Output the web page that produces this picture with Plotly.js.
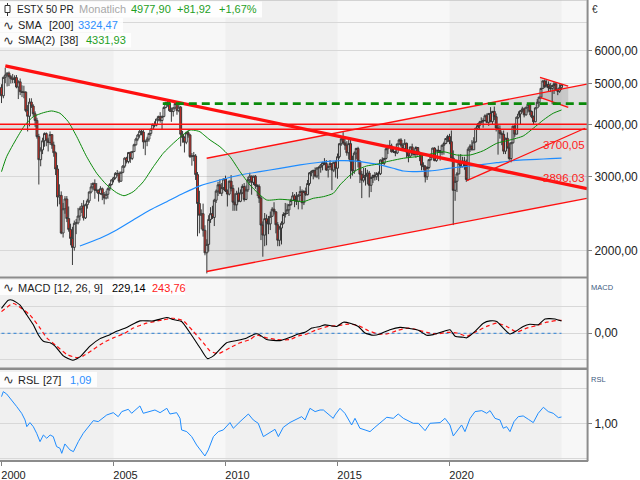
<!DOCTYPE html>
<html><head><meta charset="utf-8">
<script src="https://cdn.plot.ly/plotly-3.0.1.min.js"></script>
<style>html,body{margin:0;padding:0;background:#fff;}#chart{width:640px;height:480px;}</style>
</head><body><div id="chart"></div>
<script>
// ---- Monthly OHLC, Jan 2000 .. Jan 2025 ----
const opens = [
4904,4684,5182,5249,5303,5200,5145,5122,5175,4915,5057,4790,
4772,4779,4318,4185,4525,4426,4243,4091,3743,3297,3479,3658,
3806,3670,3625,3784,3574,3425,3133,2686,2710,2204,2518,2657,
2386,2248,2140,2037,2325,2330,2419,2519,2556,2395,2575,2630,
2761,2839,2894,2787,2788,2737,2811,2720,2671,2726,2811,2877,
2951,2984,3058,3056,2930,3076,3182,3326,3263,3429,3320,3447,
3579,3692,3775,3854,3839,3637,3649,3692,3809,3899,4004,3987,
4120,4178,4088,4182,4392,4512,4489,4315,4295,4382,4490,4316,
4400,3792,3725,3628,3826,3778,3353,3367,3365,3038,2592,2430,
2451,2237,1977,2071,2375,2451,2401,2639,2775,2872,2743,2828,
2966,2776,2729,2931,2817,2610,2573,2742,2623,2748,2845,2650,
2793,2954,3013,2911,3011,2862,2849,2671,2302,2179,2385,2330,
2317,2416,2512,2477,2306,2118,2265,2325,2440,2455,2503,2575,
2636,2703,2634,2624,2712,2770,2603,2768,2721,2893,3068,3087,
3109,3013,3150,3162,3199,3245,3228,3116,3173,3226,3114,3251,
3146,3352,3599,3697,3616,3571,3424,3601,3270,3101,3418,3507,
3268,3045,2946,3005,3028,3063,2865,2991,3023,3002,3055,3052,
3291,3231,3320,3501,3560,3555,3442,3449,3421,3595,3674,3570,
3504,3609,3439,3362,3537,3407,3396,3525,3393,3399,3198,3173,
3001,3159,3298,3352,3514,3280,3474,3467,3427,3569,3604,3703,
3745,3641,3329,2787,2928,3050,3234,3174,3273,3194,2958,3493,
3553,3481,3636,3919,3975,4039,4064,4089,4196,4048,4251,4063,
4298,4175,3924,3903,3803,3789,3455,3708,3517,3318,3618,3965,
3794,4163,4238,4315,4359,4218,4399,4471,4297,4175,4061,4382,
4521,4648,4878,5083,4921,4984,4894,4873,4958,4999,4827,4804,
4896];
const highs = [
4990,5205,5464,5330,5350,5250,5280,5240,5250,5100,5150,4960,
4950,4800,4450,4620,4620,4470,4300,4150,3800,3530,3720,3830,
3830,3720,3850,3790,3640,3450,3200,2880,2770,2600,2700,2700,
2550,2320,2280,2360,2380,2530,2550,2600,2640,2590,2660,2770,
2900,2910,2960,2900,2800,2850,2830,2760,2780,2830,2900,2960,
3000,3080,3115,3090,3090,3200,3340,3350,3440,3450,3460,3600,
3720,3800,3880,3900,3890,3660,3740,3820,3910,4020,4070,4130,
4200,4280,4200,4420,4530,4560,4572,4390,4400,4500,4500,4470,
4430,3860,3750,3850,3880,3800,3420,3440,3400,3080,2780,2510,
2590,2300,2130,2430,2540,2560,2660,2800,2920,2960,2900,2970,
3020,2800,2940,3030,2870,2740,2780,2830,2800,2880,2900,2860,
3000,3070,3020,3020,3030,2880,2880,2700,2350,2460,2440,2420,
2480,2540,2610,2480,2340,2290,2350,2470,2600,2590,2580,2660,
2760,2730,2760,2730,2850,2800,2790,2830,2950,3080,3110,3120,
3160,3160,3180,3220,3260,3325,3290,3190,3290,3230,3260,3280,
3410,3610,3740,3836,3700,3650,3690,3690,3370,3450,3520,3540,
3290,3100,3150,3150,3120,3100,3000,3040,3080,3080,3090,3300,
3340,3330,3510,3580,3670,3600,3530,3470,3600,3700,3710,3610,
3690,3620,3480,3540,3600,3510,3550,3530,3450,3420,3250,3200,
3180,3300,3410,3520,3530,3480,3560,3470,3580,3640,3710,3780,
3800,3870,3470,3000,3080,3390,3400,3350,3350,3300,3530,3590,
3670,3730,3930,4030,4080,4160,4140,4230,4250,4260,4400,4310,
4415,4250,3990,3980,3850,3870,3720,3830,3620,3630,3970,4020,
4180,4300,4330,4410,4390,4400,4480,4480,4320,4200,4400,4600,
4660,4890,5090,5120,5100,5070,5020,4930,5050,5050,4880,4990,
4990];
const lows = [
4500,4620,5020,4930,4940,5010,5020,5020,4880,4600,4700,4650,
4620,4280,3850,3960,4380,4180,3950,3700,2877,3180,3400,3540,
3550,3450,3580,3500,3350,3030,2550,2580,2190,2150,2450,2340,
2220,2060,1849,2000,2190,2310,2360,2460,2360,2380,2520,2600,
2740,2800,2660,2750,2620,2720,2640,2580,2650,2660,2780,2860,
2910,2960,3010,2900,2920,3060,3150,3230,3230,3240,3290,3440,
3560,3650,3720,3770,3500,3380,3550,3640,3760,3880,3940,3960,
4070,4040,3900,4160,4370,4410,4290,4060,4180,4360,4220,4280,
3550,3620,3430,3590,3720,3330,3190,3270,2950,2165,2200,2250,
2160,1950,1765,1990,2330,2380,2290,2600,2700,2730,2700,2790,
2760,2550,2710,2770,2490,2490,2490,2610,2610,2730,2620,2640,
2760,2900,2720,2870,2810,2700,2600,2120,1935,2050,2060,2190,
2240,2410,2440,2200,2050,2050,2070,2310,2400,2450,2420,2560,
2630,2540,2570,2510,2700,2510,2570,2700,2710,2860,3010,2960,
2990,2980,2960,3070,3110,3200,3100,2990,3160,2790,3080,2990,
2970,3320,3560,3580,3480,3370,3300,2970,3020,3050,3310,3160,
2900,2670,2910,2860,2880,2680,2760,2900,2940,2950,2930,3030,
3220,3200,3300,3400,3540,3430,3420,3360,3400,3580,3530,3500,
3490,3330,3250,3330,3370,3360,3330,3370,3270,3110,3110,2910,
2950,3130,3280,3340,3270,3260,3420,3280,3380,3390,3590,3630,
3590,3320,2302,2630,2760,3040,3150,3160,3120,2920,2940,3440,
3470,3480,3620,3900,3880,4020,3930,4080,4030,3970,4050,4000,
4100,3850,3390,3700,3570,3400,3400,3510,3280,3250,3600,3740,
3790,4130,4000,4270,4160,4200,4270,4210,4140,3990,4050,4380,
4410,4600,4860,4890,4910,4800,4780,4470,4730,4820,4700,4760,
4840];
const closes = [
4684,5182,5249,5303,5200,5145,5122,5175,4915,5057,4790,4772,
4779,4318,4185,4525,4426,4243,4091,3743,3297,3479,3658,3806,
3670,3625,3784,3574,3425,3133,2686,2710,2204,2518,2657,2386,
2248,2140,2037,2325,2330,2419,2519,2556,2395,2575,2630,2761,
2839,2894,2787,2788,2737,2811,2720,2671,2726,2811,2877,2951,
2984,3058,3056,2930,3076,3182,3326,3263,3429,3320,3447,3579,
3692,3775,3854,3839,3637,3649,3692,3809,3899,4004,3987,4120,
4178,4088,4182,4392,4512,4489,4315,4295,4382,4490,4316,4400,
3792,3725,3628,3826,3778,3353,3367,3365,3038,2592,2430,2451,
2237,1977,2071,2375,2451,2401,2639,2775,2872,2743,2828,2966,
2776,2729,2931,2817,2610,2573,2742,2623,2748,2845,2650,2793,
2954,3013,2911,3011,2862,2849,2671,2302,2179,2385,2330,2317,
2416,2512,2477,2306,2118,2265,2325,2440,2455,2503,2575,2636,
2703,2634,2624,2712,2770,2603,2768,2721,2893,3068,3087,3109,
3013,3150,3162,3199,3245,3228,3116,3173,3226,3114,3251,3146,
3352,3599,3697,3616,3571,3424,3601,3270,3101,3418,3507,3268,
3045,2946,3005,3028,3063,2865,2991,3023,3002,3055,3052,3291,
3231,3320,3501,3560,3555,3442,3449,3421,3595,3674,3570,3504,
3609,3439,3362,3537,3407,3396,3525,3393,3399,3198,3173,3001,
3159,3298,3352,3514,3280,3474,3467,3427,3569,3604,3703,3745,
3641,3329,2787,2928,3050,3234,3174,3273,3194,2958,3493,3553,
3481,3636,3919,3975,4039,4064,4089,4196,4048,4251,4063,4298,
4175,3924,3903,3803,3789,3455,3708,3517,3318,3618,3965,3794,
4163,4238,4315,4359,4218,4399,4471,4297,4175,4061,4382,4521,
4648,4878,5083,4921,4984,4894,4873,4958,4999,4827,4804,4896,
4977.9];
const startYear = 2000;

// ---- SMA lines (decimal years) ----
const sma200X = [2003.50,2004.40,2005.14,2005.88,2006.63,2007.38,2008.12,2008.86,2009.75,2010.65,2011.54,2012.43,2013.33,2014.22,2015.11,2015.71,2016.30,2016.90,2017.49,2017.94,2018.54,2019.13,2019.72,2020.32,2020.92,2021.51,2022.11,2022.70,2023.29,2023.89,2024.49,2025.0];
const sma200Y = [2052,2141,2241,2367,2501,2618,2741,2855,2949,3031,3087,3145,3203,3251,3280,3275,3243,3203,3145,3099,3087,3099,3128,3163,3185,3215,3243,3273,3292,3304,3315,3324.47];
const sma38X = [2000.0,2000.23,2000.68,2001.05,2001.42,2001.87,2002.24,2002.61,2002.98,2003.36,2003.80,2004.25,2004.70,2005.14,2005.47,2005.88,2006.33,2006.78,2007.22,2007.67,2008.04,2008.42,2008.71,2008.86,2009.08,2009.31,2009.75,2010.20,2010.65,2011.09,2011.46,2011.84,2012.43,2012.88,2013.47,2013.92,2014.37,2014.81,2015.11,2015.48,2015.86,2016.30,2016.75,2017.20,2017.94,2018.54,2019.13,2019.72,2020.32,2020.92,2021.51,2022.11,2022.70,2023.29,2023.74,2024.19,2024.63,2025.0];
const sma38Y = [3087,3353,3709,3990,4176,4268,4309,4255,4063,3741,3353,3060,2870,2750,2705,2765,2921,3172,3415,3608,3755,3880,3866,3844,3760,3674,3541,3353,3087,2870,2741,2642,2653,2642,2618,2667,2691,2741,2870,3003,3115,3185,3215,3261,3323,3353,3396,3445,3383,3383,3464,3608,3674,3755,3918,4101,4255,4331.93];

// ---- Drawn lines / levels ----
const downTrendX = [2000.17, 2026.14], downTrendY = [5520, 2811];
const channelX = [2009.16, 2026.13];
const channelUpY = [3323, 4996], channelLowY = [1784, 2667];
const supportX = [2020.77, 2026.05], supportY = [2938, 3918];
const flagX = [2024.04, 2025.30];
const flagUpY = [5184, 4941], flagLowY = [4645, 4397];
const levelX = [1999.93, 2026.14];
const levelHigh = 4005, levelLow = 3896;
const resistX = [2007.2, 2026.14], resistY = 4485;
const trendLabels = ['3700,05', '2896,03'];

// ---- MACD (12,26,9) ----
const macdX = [2000.0,2000.30,2000.5,2000.83,2001.13,2001.42,2001.64,2001.87,2002.17,2002.39,2002.76,2003.18,2003.5,2003.95,2004.40,2004.84,2005.14,2005.59,2006.18,2006.78,2007.38,2007.67,2008.04,2008.42,2008.86,2009.19,2009.46,2010.05,2010.5,2010.95,2011.32,2011.46,2011.84,2012.43,2012.88,2013.25,2013.55,2013.85,2014.22,2014.44,2014.96,2015.26,2015.56,2015.93,2016.23,2016.6,2016.9,2017.34,2017.79,2018.09,2018.61,2018.98,2019.28,2019.65,2020.02,2020.25,2020.62,2020.77,2021.14,2021.51,2021.81,2022.11,2022.40,2022.70,2023.0,2023.29,2023.59,2023.96,2024.26,2024.71,2025.0];
const macdY = [468,622,622,529,344,159,-26,-148,-179,-240,-425,-507,-444,-240,-100,-26,37,111,233,233,296,259,222,6,-272,-475,-425,-179,-137,-87,-13,-13,-118,-137,-74,-13,18,98,129,159,129,209,190,129,6,-37,-13,67,111,98,56,-37,-25,24,67,-56,-74,-85,37,190,233,222,98,-13,48,129,170,159,270,270,229.14];
const signalX = [2000.0,2000.53,2001.27,2001.72,2002.02,2002.46,2002.91,2003.36,2003.65,2004.10,2004.54,2004.99,2005.44,2005.88,2006.48,2007.22,2007.67,2008.12,2008.56,2009.01,2009.31,2009.68,2010.20,2010.65,2011.09,2011.39,2011.84,2012.29,2012.88,2013.25,2013.63,2014.07,2014.59,2015.04,2015.48,2015.93,2016.38,2016.82,2017.20,2017.64,2018.16,2018.54,2018.98,2019.43,2019.88,2020.33,2020.77,2021.22,2021.66,2022.11,2022.55,2023.0,2023.45,2023.90,2024.34,2024.79,2025.0];
const signalY = [407,560,344,98,-87,-240,-396,-457,-425,-303,-179,-87,-13,98,190,252,283,233,37,-179,-333,-383,-272,-179,-118,-37,-87,-118,-118,-50,-13,67,129,147,172,147,48,-13,-13,48,98,67,18,-13,18,6,-56,37,129,190,129,24,98,147,209,240,243.76];
const zeroLineX = [2000.0, 2025.0], zeroLineY = [0, 0];

// ---- RSL (27) ----
const rslX = [2000.0,2000.08,2000.23,2000.46,2000.68,2000.90,2001.05,2001.13,2001.27,2001.42,2001.57,2001.72,2001.87,2002.02,2002.17,2002.31,2002.46,2002.61,2002.69,2002.83,2003.06,2003.21,2003.43,2003.65,2003.88,2004.10,2004.32,2004.47,2004.70,2004.99,2005.21,2005.37,2005.66,2005.81,2006.18,2006.33,2006.63,2006.85,2007.08,2007.38,2007.52,2007.82,2007.97,2008.04,2008.27,2008.49,2008.71,2008.86,2009.08,2009.23,2009.46,2009.68,2009.90,2010.20,2010.35,2010.65,2011.02,2011.24,2011.46,2011.69,2011.99,2012.21,2012.36,2012.58,2012.88,2013.10,2013.29,2013.40,2013.55,2013.77,2014.0,2014.22,2014.37,2014.59,2014.81,2014.89,2015.11,2015.33,2015.56,2015.63,2015.78,2016.00,2016.23,2016.45,2016.67,2016.90,2017.20,2017.49,2017.71,2017.94,2018.16,2018.38,2018.61,2018.76,2018.91,2019.13,2019.35,2019.58,2019.80,2020.02,2020.17,2020.32,2020.54,2020.69,2020.92,2021.14,2021.44,2021.66,2021.81,2022.03,2022.25,2022.40,2022.55,2022.70,2022.88,2023.07,2023.29,2023.52,2023.74,2023.96,2024.19,2024.41,2024.63,2024.86,2025.0];
const rslY = [1.381,1.452,1.419,1.333,1.238,1.143,1.048,0.952,1.01,0.952,0.857,0.738,0.833,0.786,0.833,0.81,0.667,0.643,0.571,0.705,0.619,0.595,0.738,0.857,0.952,1.038,1.024,1.057,1.119,1.152,1.095,1.167,1.2,1.143,1.248,1.143,1.167,1.19,1.152,1.214,1.133,1.152,1.071,0.905,0.881,0.81,0.69,0.619,0.533,0.619,0.81,0.881,0.905,1.01,0.929,1.024,1.133,1.048,1.0,0.81,0.867,0.914,0.81,0.943,1.012,1.048,1.086,1.095,1.048,1.214,1.167,1.19,1.19,1.133,1.071,1.119,1.214,1.143,1.0,0.976,1.071,0.929,0.905,0.881,0.943,1.01,1.086,1.071,1.133,1.071,1.038,1.0,1.0,0.952,0.895,1.0,1.0,1.01,1.071,0.976,0.819,0.881,0.976,0.881,1.071,1.167,1.181,1.143,1.181,1.071,1.048,0.929,0.952,0.881,1.024,1.095,1.105,1.057,1.01,1.143,1.229,1.167,1.143,1.081,1.09];

// ---- axis ticks ----
const xTickVals = [2000, 2005, 2010, 2015, 2020];
const xTickText = ['2000', '2005', '2010', '2015', '2020'];
const priceTickVals = [2000, 3000, 4000, 5000, 6000];
const priceTickText = ['2000,00', '3000,00', '4000,00', '5000,00', '6000,00'];
const bandStarts = [1999.9, 2010, 2020], bandEnds = [2005, 2015, 2025];

// ================= layout helpers =================
const PW = 587, PH = 461;
const px = x => x / PW;
const py = y => 1 - y / PH;
const months = closes.map((_, i) => startYear + i / 12);
const FONT = 'Liberation Sans, Arial, sans-serif';

const RED = '#ff1010';
const traces = [];
traces.push({x:[channelX[0],channelX[1],channelX[1],channelX[0]], y:[channelUpY[0],channelUpY[1],channelLowY[1],channelLowY[0]],
  type:'scatter', mode:'lines', fill:'toself', fillcolor:'rgba(0,0,0,0.085)', line:{width:0}, xaxis:'x', yaxis:'y'});
traces.push({x:[levelX[0],levelX[1],levelX[1],levelX[0]], y:[levelHigh,levelHigh,levelLow,levelLow],
  type:'scatter', mode:'lines', fill:'toself', fillcolor:'rgba(0,0,0,0.07)', line:{width:0}, xaxis:'x', yaxis:'y'});
traces.push({x:[flagX[0],flagX[1],flagX[1],flagX[0]], y:[flagUpY[0],flagUpY[1],flagLowY[1],flagLowY[0]],
  type:'scatter', mode:'lines', fill:'toself', fillcolor:'rgba(0,0,0,0.11)', line:{width:0}, xaxis:'x', yaxis:'y'});
traces.push({type:'candlestick', x:months, open:opens, high:highs, low:lows, close:closes, xaxis:'x', yaxis:'y',
  whiskerwidth:0,
  increasing:{line:{color:'#3a3a3a', width:1}, fillcolor:'#ffffff'},
  decreasing:{line:{color:'#3a3a3a', width:1}, fillcolor:'#e0281e'}});
traces.push({x:sma200X, y:sma200Y, type:'scatter', mode:'lines', line:{color:'#1e8cff', width:1.2, shape:'spline', smoothing:0.6}, xaxis:'x', yaxis:'y'});
traces.push({x:sma38X, y:sma38Y, type:'scatter', mode:'lines', line:{color:'#0a8a0a', width:1, shape:'spline', smoothing:0.6}, xaxis:'x', yaxis:'y'});
const thin = (xs, ys, w) => traces.push({x:xs, y:ys, type:'scatter', mode:'lines', line:{color:RED, width:w}, xaxis:'x', yaxis:'y'});
thin(channelX, channelUpY, 1.3);
thin(channelX, channelLowY, 1.3);
thin(levelX, [levelHigh, levelHigh], 1.5);
thin(levelX, [levelLow, levelLow], 1.5);
thin(supportX, supportY, 1.3);
thin(flagX, flagUpY, 1.3);
thin(flagX, flagLowY, 1.3);
thin(downTrendX, downTrendY, 3.3);
traces.push({x:resistX, y:[resistY, resistY], type:'scatter', mode:'lines', line:{color:'#0a8a0a', width:2.6, dash:'8px,5px'}, xaxis:'x', yaxis:'y'});
traces.push({x:zeroLineX, y:zeroLineY, type:'scatter', mode:'lines', line:{color:'#2a7fd4', width:1, dash:'dot'}, xaxis:'x', yaxis:'y2'});
traces.push({x:signalX, y:signalY, type:'scatter', mode:'lines', line:{color:'#ff1010', width:1.2, dash:'4px,3px', shape:'spline', smoothing:0.5}, xaxis:'x', yaxis:'y2'});
traces.push({x:macdX, y:macdY, type:'scatter', mode:'lines', line:{color:'#000000', width:1.1, shape:'spline', smoothing:0.5}, xaxis:'x', yaxis:'y2'});
traces.push({x:rslX, y:rslY, type:'scatter', mode:'lines', line:{color:'#1e8cff', width:1}, xaxis:'x', yaxis:'y3'});

const shapes = [];
bandStarts.forEach((b, i) => shapes.push({type:'rect', xref:'x', yref:'paper', x0:b, x1:bandEnds[i], y0:0, y1:1,
  fillcolor:'#f0f0f0', line:{width:0}, layer:'below'}));
const grayRect = (y0, y1) => shapes.push({type:'rect', xref:'paper', yref:'paper', x0:0, x1:1, y0:py(y1), y1:py(y0),
  fillcolor:'#8c8c8c', line:{width:0}, layer:'above'});
grayRect(276.5, 278.5);
grayRect(367.5, 370);
shapes.push({type:'line', xref:'paper', yref:'paper', x0:1.001, x1:1.001, y0:0, y1:1, line:{color:'#8c8c8c', width:2}, layer:'above'});
shapes.push({type:'line', xref:'paper', yref:'paper', x0:0, x1:1.002, y0:0, y1:0, line:{color:'#8c8c8c', width:2}, layer:'above'});
shapes.push({type:'line', xref:'paper', yref:'paper', x0:0, x1:1, y0:1, y1:1, line:{color:'#b0b0b0', width:1}, layer:'above'});
const box = (x1, y0, y1) => shapes.push({type:'rect', xref:'paper', yref:'paper', x0:0, x1:px(x1), y0:py(y1), y1:py(y0),
  fillcolor:'rgba(255,255,255,0.85)', line:{width:0}, layer:'above'});
box(262, 1.5, 17.5); box(123, 18, 32.5); box(131, 33, 47.5); box(185, 280, 295); box(97, 372, 387);
shapes.push({type:'line', xref:'paper', yref:'paper', x0:px(7.5), x1:px(7.5), y0:py(16), y1:py(3), line:{color:'#333', width:1}, layer:'above'});
shapes.push({type:'rect', xref:'paper', yref:'paper', x0:px(5), x1:px(10), y0:py(12.5), y1:py(5.5), fillcolor:'#ffffff', line:{color:'#333', width:1}, layer:'above'});

const annotations = [];
const txt = (x, y, t, color, size, anchor) => annotations.push({xref:'paper', yref:'paper', x:px(x), y:py(y), text:t, showarrow:false,
  xanchor:anchor || 'left', yanchor:'middle', borderpad:0, font:{family:FONT, size:size || 11, color:color || '#222'}});
const GREEN = '#1fa01f', BLUE = '#2f8fff';
txt(16, 9.5, 'ESTX 50 PR', '#222', 10); txt(78, 9.5, 'Monatlich', '#a8a8a8'); txt(130, 9.5, '4977,90', GREEN); txt(176, 9.5, '+81,92', GREEN); txt(218, 9.5, '+1,67%', GREEN);
txt(2, 25, '∿', '#333', 13); txt(17, 25, 'SMA'); txt(48, 25, '[200]'); txt(77, 25, '3324,47', BLUE);
txt(2, 40, '∿', '#333', 13); txt(17, 40, 'SMA(2)'); txt(59, 40, '[38]'); txt(85, 40, '4331,93', GREEN);
txt(2, 287.5, '∿', '#333', 13); txt(17, 287.5, 'MACD'); txt(53, 287.5, '[12, 26, 9]'); txt(111, 287.5, '229,14', '#000'); txt(151, 287.5, '243,76', '#ff1a1a');
txt(2, 379.5, '∿', '#333', 13); txt(17, 379.5, 'RSL'); txt(42, 379.5, '[27]'); txt(69, 379.5, '1,09', BLUE);
txt(586, 145.5, trendLabels[0], '#ff2020', 11.5, 'right');
txt(586, 177.5, trendLabels[1], '#ff2020', 11.5, 'right');
txt(591, 9.5, '€', '#333', 10);
txt(590, 287, 'MACD', '#3d5a80', 7.5);
txt(590, 379, 'RSL', '#3d5a80', 7.5);

const yTick = {ticks:'outside', ticklen:4, tickcolor:'#808080', tickwidth:1, side:'right', anchor:'x',
  gridcolor:'#d8d8d8', gridwidth:1, zeroline:false, showline:false, fixedrange:true,
  tickfont:{family:FONT, size:12, color:'#222'}};

const layout = {
  width:640, height:480,
  margin:{l:0, r:53, t:0, b:19},
  paper_bgcolor:'#ffffff', plot_bgcolor:'#f7f7f7',
  showlegend:false, hovermode:false,
  boxgap:0, boxgroupgap:0,
  font:{family:FONT},
  xaxis:{type:'linear', range:[1999.933, 2026.138], anchor:'y3', tickmode:'array', tickvals:xTickVals, ticktext:xTickText,
    ticks:'outside', ticklen:4, tickcolor:'#808080', showgrid:false, zeroline:false, showline:false,
    rangeslider:{visible:false}, ticklabelshift:12, tickfont:{family:FONT, size:11, color:'#222'}},
  yaxis:Object.assign({}, yTick, {domain:[0.40022, 1], type:'log', range:[3.23948, 3.89907],
    tickmode:'array', tickvals:priceTickVals, ticktext:priceTickText,
    minor:{tickmode:'array', tickvals:[7000], showgrid:true, gridcolor:'#d8d8d8', ticks:''}}),
  yaxis2:Object.assign({}, yTick, {domain:[0.20282, 0.39588], range:[-643, 1030],
    tickmode:'array', tickvals:[0], ticktext:['0,00'],
    minor:{tickmode:'array', tickvals:[-500, 500], showgrid:true, gridcolor:'#d8d8d8', ticks:''}}),
  yaxis3:Object.assign({}, yTick, {domain:[0, 0.1974], range:[0.4614, 1.7614],
    tickmode:'array', tickvals:[1], ticktext:['1,00'],
    minor:{tickmode:'array', tickvals:[0.5, 1.5], showgrid:true, gridcolor:'#d8d8d8', ticks:''}}),
  shapes:shapes, annotations:annotations
};
Plotly.newPlot('chart', traces, layout, {staticPlot:true, displayModeBar:false});
</script></body></html>
